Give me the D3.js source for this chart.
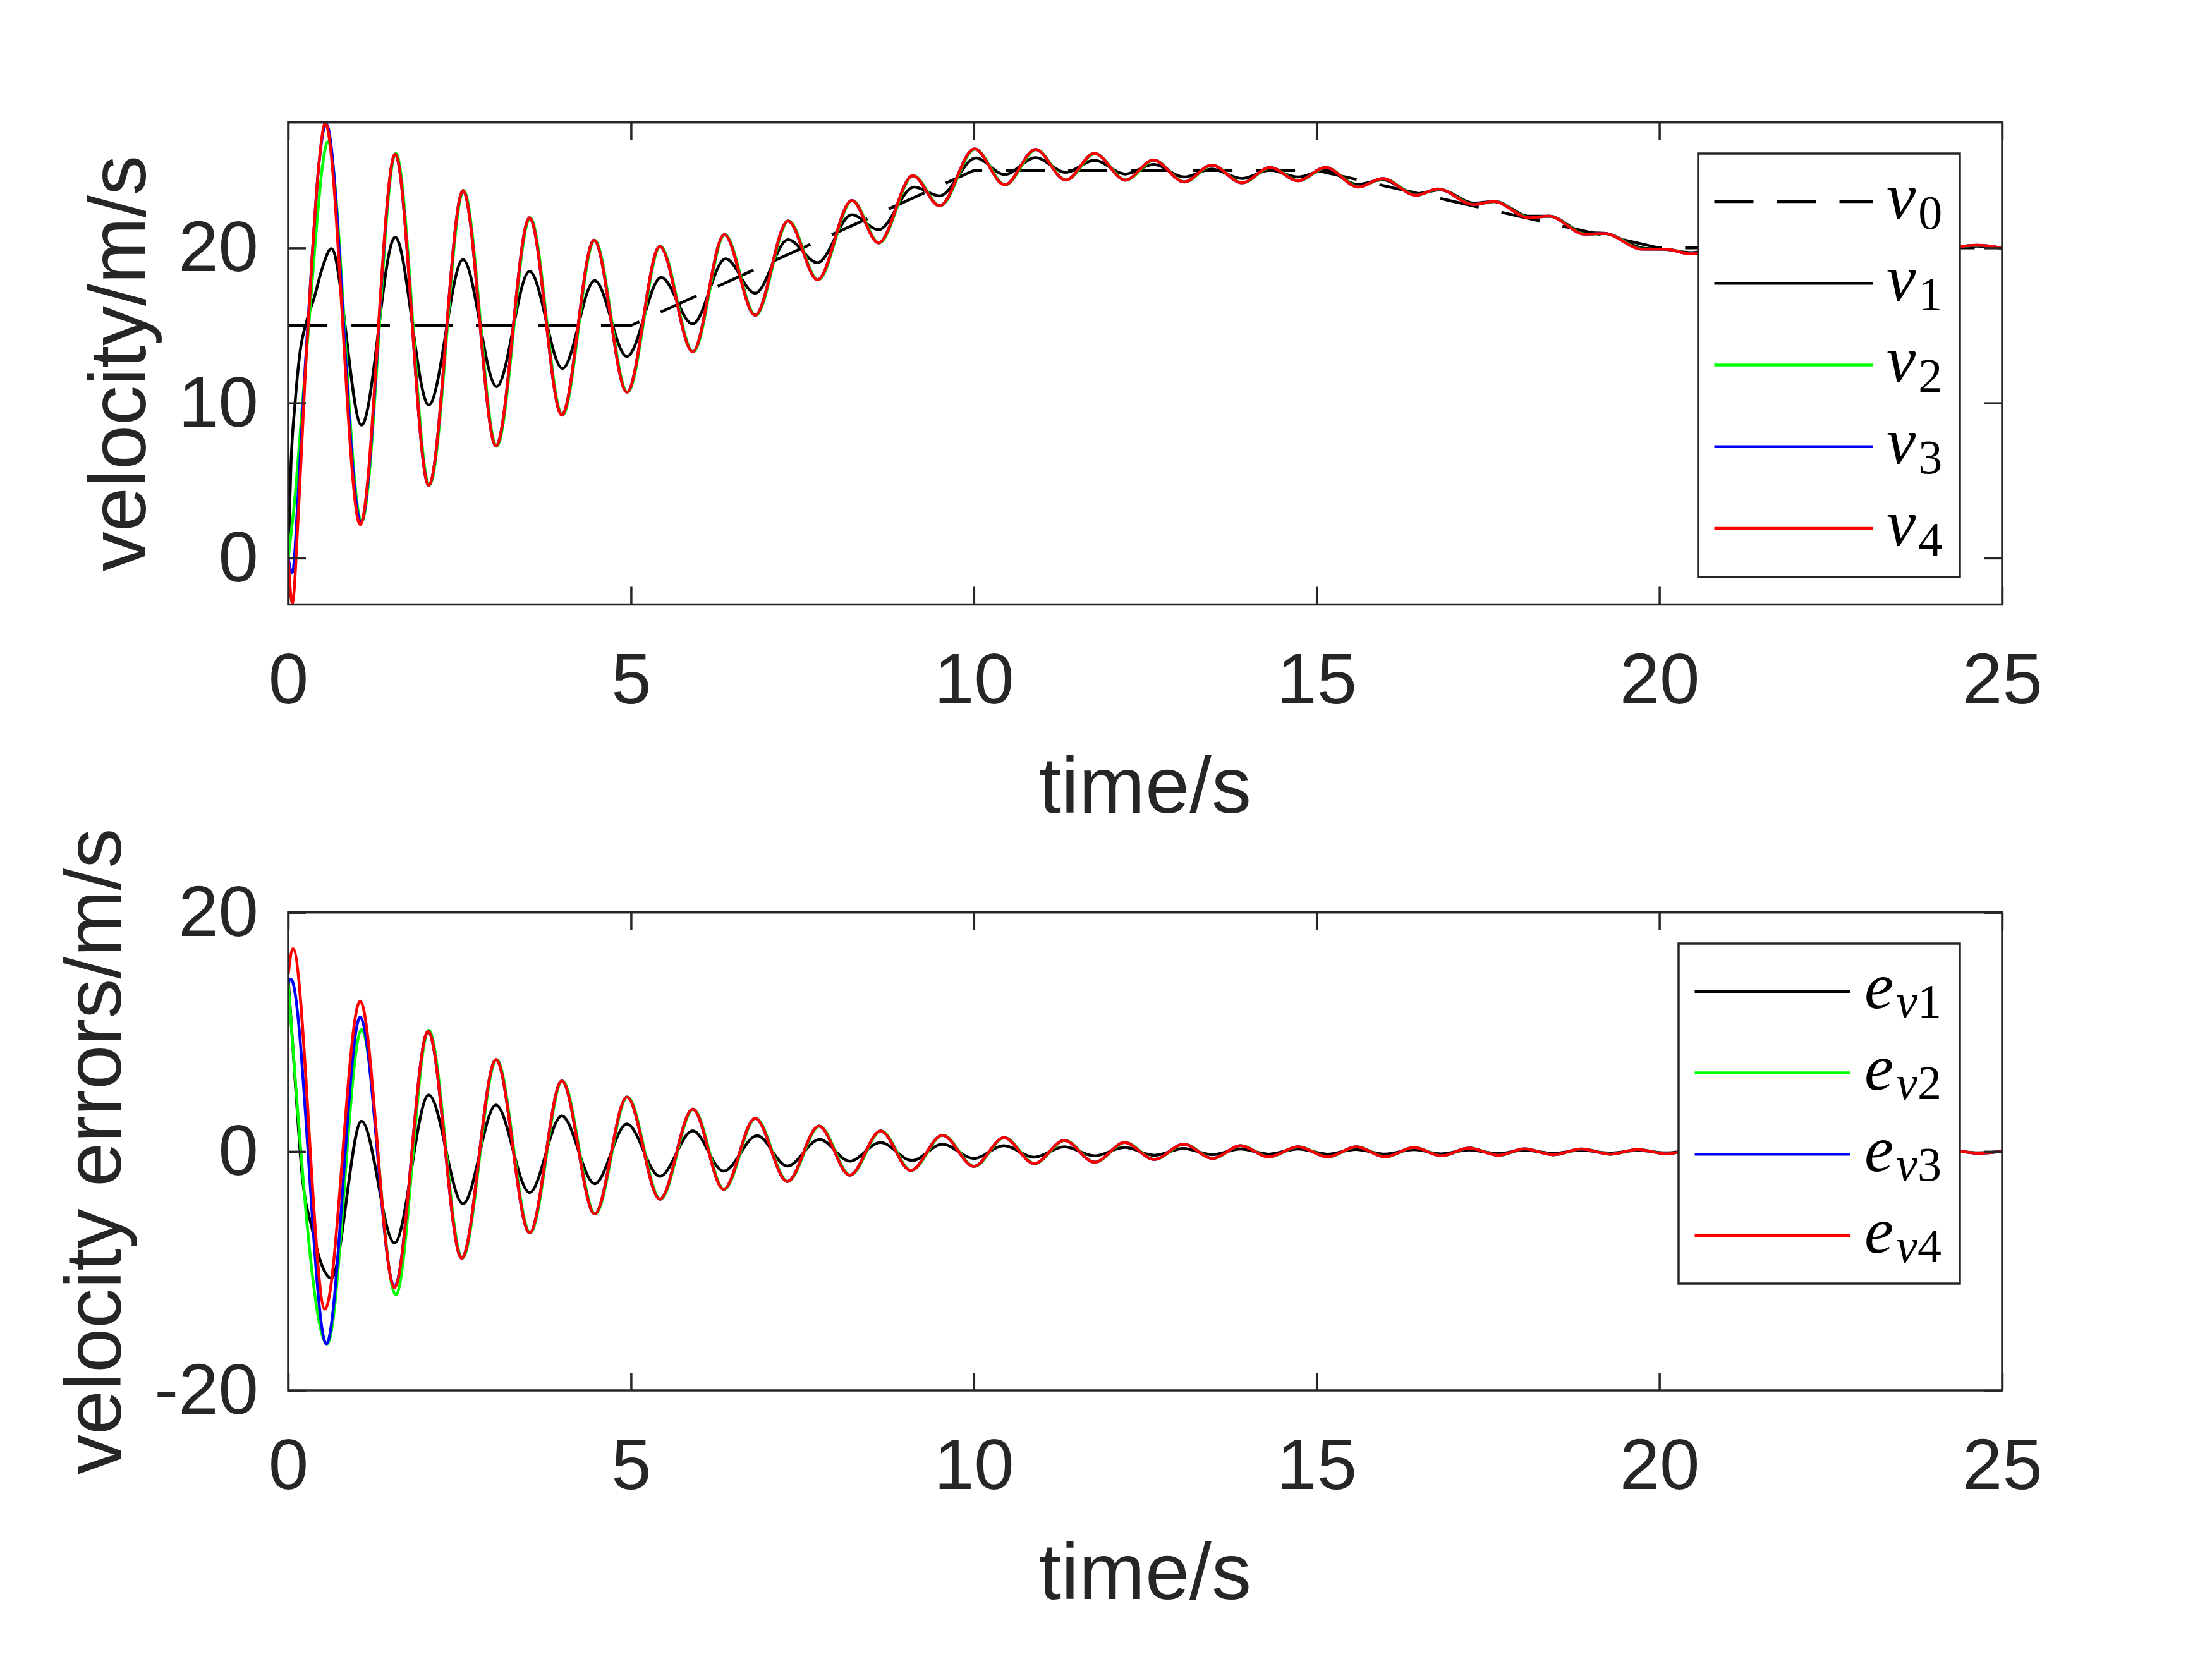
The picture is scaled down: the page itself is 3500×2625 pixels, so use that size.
<!DOCTYPE html>
<html>
<head>
<meta charset="utf-8">
<script src="https://cdn.jsdelivr.net/npm/d3@7"></script>
<style>
  body { margin: 0; background: #fff; }
  .tick text, .lbl { font-family: "Liberation Sans", Arial, sans-serif; fill: #262626; }
  .leg { font-family: "Liberation Serif", "Times New Roman", serif; fill: #000; }
</style>
</head>
<body>
<svg id="chart"></svg>
<script>
// ---- data (t in s) ----
const timeTicks = [0, 5, 10, 15, 20, 25];
const velTicks = [0, 10, 20];
const errTicks = [-20, 0, 20];

const v0 = [[0, 15], [5, 15], [10, 25], [15, 25], [20, 20], [25, 20]];

const v1 = [[0, 0], [0.04, 6], [0.1, 10], [0.17, 13.2], [0.27, 15.3], [0.38, 16.8], [0.49, 18.6], [0.63, 19.95],
  [1.07, 8.57], [1.56, 20.7], [2.05, 9.87], [2.55, 19.25], [3.04, 11.06], [3.52, 18.5], [4.0, 12.23], [4.47, 17.9],
  [4.94, 13.0], [5.44, 18.1], [5.9, 15.1], [6.38, 19.3], [6.81, 17.08], [7.29, 20.53], [7.72, 19.05], [8.22, 22.15],
  [8.61, 21.18], [9.13, 23.93], [9.5, 23.36], [10.03, 25.8], [10.45, 24.74], [10.9, 25.82], [11.34, 24.88],
  [11.76, 25.65], [12.21, 24.77], [12.62, 25.39], [13.07, 24.58], [13.47, 25.09], [13.91, 24.48], [14.32, 25.02],
  [14.73, 24.58], [15.13, 25.02], [15.6, 24.1], [15.96, 24.4], [16.45, 23.5], [16.8, 23.75], [17.3, 22.9],
  [17.6, 23.0], [18.1, 22.05], [18.4, 22.05], [18.9, 21.0], [19.2, 20.95], [19.75, 20.0], [20.1, 19.9],
  [20.46, 19.7], [21.0, 20.05], [21.6, 19.92], [22.2, 20.06], [22.8, 19.95], [23.4, 20.05], [24.0, 19.96],
  [24.63, 20.12], [25, 20.0]];

const v2 = [[0, 0], [0.1, 4], [0.2, 9.5], [0.3, 15], [0.42, 21.7], [0.5, 25.3], [0.58, 26.87],
  [1.07, 2.35], [1.57, 26.1], [2.06, 4.7], [2.56, 23.7], [3.04, 7.2], [3.53, 21.95], [4.0, 9.2], [4.47, 20.5],
  [4.95, 10.7], [5.43, 20.1], [5.91, 13.3], [6.37, 20.86], [6.82, 15.66], [7.3, 21.74], [7.73, 17.95],
  [8.23, 23.06], [8.62, 20.33], [9.12, 24.66], [9.51, 22.72], [10.02, 26.38], [10.46, 24.07], [10.91, 26.34],
  [11.35, 24.38], [11.77, 26.08], [12.22, 24.38], [12.63, 25.66], [13.08, 24.26], [13.48, 25.34], [13.92, 24.2],
  [14.33, 25.18], [14.74, 24.34], [15.14, 25.18], [15.62, 23.94], [15.97, 24.47], [16.46, 23.41], [16.78, 23.8],
  [17.3, 22.81], [17.59, 22.99], [18.11, 21.96], [18.4, 22.04], [18.92, 20.9], [19.21, 20.92], [19.76, 19.93],
  [20.1, 19.92], [20.47, 19.63], [21.0, 20.1], [21.6, 19.9], [22.2, 20.1], [22.8, 19.92], [23.4, 20.08],
  [24.0, 19.94], [24.64, 20.17], [25, 20.0]];

const v3 = [[0, 0], [0.06, -0.96], [0.15, 4.5], [0.25, 12.5], [0.35, 19.5], [0.45, 25.5], [0.555, 28.0],
  [1.06, 2.3], [1.56, 26.05], [2.05, 4.68], [2.55, 23.7], [3.03, 7.22], [3.52, 21.95], [3.99, 9.22], [4.46, 20.5],
  [4.94, 10.7], [5.42, 20.1], [5.9, 13.3], [6.36, 20.86], [6.81, 15.66], [7.29, 21.74], [7.72, 17.95],
  [8.22, 23.06], [8.61, 20.33], [9.11, 24.66], [9.5, 22.72], [10.01, 26.4], [10.45, 24.07], [10.9, 26.36],
  [11.34, 24.38], [11.76, 26.1], [12.21, 24.38], [12.62, 25.67], [13.07, 24.26], [13.47, 25.35], [13.91, 24.2],
  [14.32, 25.19], [14.73, 24.34], [15.13, 25.19], [15.61, 23.93], [15.96, 24.48], [16.45, 23.4], [16.77, 23.81],
  [17.29, 22.8], [17.58, 23.0], [18.1, 21.95], [18.39, 22.05], [18.91, 20.89], [19.2, 20.93], [19.75, 19.92],
  [20.09, 19.92], [20.46, 19.62], [21.0, 20.1], [21.6, 19.9], [22.2, 20.1], [22.8, 19.92], [23.4, 20.08],
  [24.0, 19.94], [24.63, 20.18], [25, 20.0]];

const v4 = [[0, 0], [0.06, -2.9], [0.15, 3], [0.25, 12], [0.35, 19.5], [0.45, 25.5], [0.54, 28.05],
  [1.05, 2.16], [1.56, 26.05], [2.05, 4.68], [2.55, 23.7], [3.03, 7.22], [3.52, 21.95], [3.99, 9.22], [4.46, 20.5],
  [4.94, 10.7], [5.42, 20.1], [5.9, 13.3], [6.36, 20.86], [6.81, 15.66], [7.29, 21.74], [7.72, 17.95],
  [8.22, 23.06], [8.61, 20.33], [9.11, 24.66], [9.5, 22.72], [10.01, 26.4], [10.45, 24.07], [10.9, 26.36],
  [11.34, 24.38], [11.76, 26.1], [12.21, 24.38], [12.62, 25.67], [13.07, 24.26], [13.47, 25.35], [13.91, 24.2],
  [14.32, 25.19], [14.73, 24.34], [15.13, 25.19], [15.61, 23.93], [15.96, 24.48], [16.45, 23.4], [16.77, 23.81],
  [17.29, 22.8], [17.58, 23.0], [18.1, 21.95], [18.39, 22.05], [18.91, 20.89], [19.2, 20.93], [19.75, 19.92],
  [20.09, 19.92], [20.46, 19.62], [21.0, 20.1], [21.6, 19.9], [22.2, 20.1], [22.8, 19.92], [23.4, 20.08],
  [24.0, 19.94], [24.63, 20.18], [25, 20.0]];

const ev1 = [[0, 14.5], [0.1, 6], [0.2, -1.8], [0.35, -6.5], [0.49, -9.5], [0.63, -10.6], [1.07, 2.53],
  [1.55, -7.66], [2.05, 4.72], [2.55, -4.38], [3.03, 3.88], [3.52, -3.44], [3.99, 2.97], [4.47, -2.7], [4.94, 2.29],
  [5.42, -2.09], [5.9, 1.72], [6.35, -1.65], [6.84, 1.31], [7.28, -1.23], [7.75, 1.0], [8.19, -0.81], [8.64, 0.74],
  [9.1, -0.76], [9.54, 0.6], [10.0, -0.58], [10.44, 0.48], [10.88, -0.49], [11.32, 0.39], [11.76, -0.37],
  [12.2, 0.33], [12.63, -0.32], [13.06, 0.24], [13.48, -0.27], [13.89, 0.21], [14.3, -0.23], [14.73, 0.21],
  [15.16, -0.23], [15.57, 0.17], [16.0, -0.22], [16.42, 0.15], [16.82, -0.2], [17.22, 0.13], [17.65, -0.18],
  [18.03, 0.11], [18.45, -0.16], [18.86, 0.1], [19.29, -0.14], [19.68, 0.09], [20.1, -0.12], [20.5, 0.08],
  [20.9, -0.1], [21.3, 0.07], [21.7, -0.09], [22.1, 0.06], [22.5, -0.08], [22.9, 0.05], [23.3, -0.07],
  [23.7, 0.05], [24.1, -0.06], [24.25, 0.05], [24.66, -0.12], [25, 0.0]];

const ev2 = [[0, 14.1], [0.57, -16.1], [1.07, 10.2], [1.57, -12.0], [2.05, 10.15], [2.54, -8.94], [3.04, 7.69],
  [3.53, -6.81], [4.0, 5.9], [4.48, -5.23], [4.95, 4.55], [5.43, -4.0], [5.91, 3.54], [6.36, -3.17], [6.82, 2.77],
  [7.29, -2.52], [7.75, 2.12], [8.2, -1.99], [8.65, 1.71], [9.09, -1.59], [9.55, 1.36], [10.01, -1.25],
  [10.45, 1.15], [10.89, -1.02], [11.33, 0.92], [11.77, -0.9], [12.21, 0.74], [12.64, -0.67], [13.07, 0.6],
  [13.49, -0.58], [13.9, 0.48], [14.31, -0.46], [14.74, 0.39], [15.17, -0.46], [15.59, 0.39], [16.01, -0.46],
  [16.43, 0.33], [16.83, -0.37], [17.23, 0.28], [17.66, -0.32], [18.04, 0.22], [18.46, -0.28], [18.87, 0.2],
  [19.3, -0.23], [19.69, 0.17], [20.11, -0.2], [20.51, 0.15], [20.91, -0.17], [21.31, 0.13], [21.71, -0.15],
  [22.11, 0.12], [22.51, -0.13], [22.91, 0.1], [23.31, -0.12], [23.71, 0.09], [24.11, -0.1], [24.26, 0.08],
  [24.67, -0.15], [25, 0.02]];

const ev3 = [[0, 14.1], [0.04, 14.4], [0.557, -16.1], [1.05, 11.23], [1.55, -11.3], [2.04, 10.05], [2.53, -8.94],
  [3.03, 7.69], [3.52, -6.81], [3.99, 5.9], [4.47, -5.23], [4.94, 4.55], [5.42, -4.0], [5.9, 3.54], [6.35, -3.17],
  [6.81, 2.77], [7.28, -2.52], [7.74, 2.12], [8.19, -1.99], [8.64, 1.71], [9.08, -1.59], [9.54, 1.36], [10.0, -1.25],
  [10.44, 1.15], [10.88, -1.02], [11.32, 0.92], [11.76, -0.9], [12.2, 0.74], [12.63, -0.67], [13.06, 0.6],
  [13.48, -0.58], [13.89, 0.48], [14.3, -0.46], [14.73, 0.39], [15.16, -0.46], [15.58, 0.39], [16.0, -0.46],
  [16.42, 0.33], [16.82, -0.37], [17.22, 0.28], [17.65, -0.32], [18.03, 0.22], [18.45, -0.28], [18.86, 0.2],
  [19.29, -0.23], [19.68, 0.17], [20.1, -0.2], [20.5, 0.15], [20.9, -0.17], [21.3, 0.13], [21.7, -0.15],
  [22.1, 0.12], [22.5, -0.13], [22.9, 0.1], [23.3, -0.12], [23.7, 0.09], [24.1, -0.1], [24.25, 0.08],
  [24.66, -0.15], [25, 0.02]];

const ev4 = [[0, 14.8], [0.07, 16.96], [0.536, -13.2], [1.05, 12.58], [1.55, -11.4], [2.04, 10.05], [2.53, -8.94],
  [3.03, 7.69], [3.52, -6.81], [3.99, 5.9], [4.47, -5.23], [4.94, 4.55], [5.42, -4.0], [5.9, 3.54], [6.35, -3.17],
  [6.81, 2.77], [7.28, -2.52], [7.74, 2.12], [8.19, -1.99], [8.64, 1.71], [9.08, -1.59], [9.54, 1.36], [10.0, -1.25],
  [10.44, 1.15], [10.88, -1.02], [11.32, 0.92], [11.76, -0.9], [12.2, 0.74], [12.63, -0.67], [13.06, 0.6],
  [13.48, -0.58], [13.89, 0.48], [14.3, -0.46], [14.73, 0.39], [15.16, -0.46], [15.58, 0.39], [16.0, -0.46],
  [16.42, 0.33], [16.82, -0.37], [17.22, 0.28], [17.65, -0.32], [18.03, 0.22], [18.45, -0.28], [18.86, 0.2],
  [19.29, -0.23], [19.68, 0.17], [20.1, -0.2], [20.5, 0.15], [20.9, -0.17], [21.3, 0.13], [21.7, -0.15],
  [22.1, 0.12], [22.5, -0.13], [22.9, 0.1], [23.3, -0.12], [23.7, 0.09], [24.1, -0.1], [24.25, 0.08],
  [24.66, -0.15], [25, 0.02]];

const topLegend = [["v", "0"], ["v", "1"], ["v", "2"], ["v", "3"], ["v", "4"]];
const bottomLegend = [["e", "v", "1"], ["e", "v", "2"], ["e", "v", "3"], ["e", "v", "4"]];

// ---- layout ----
const W = 3500, H = 2625;
const axColor = "#262626";
const svg = d3.select("#chart").attr("width", W).attr("height", H);
svg.append("rect").attr("width", W).attr("height", H).attr("fill", "#fff");

const left = 456, right = 3168;
const x = d3.scaleLinear().domain([0, 25]).range([left, right]);

const panels = [
  {
    id: "top", top: 193.7, bottom: 956.5, domain: [-3, 28.1], ticks: velTicks,
    ylabel: "velocity/m/s", ylabelX: 229.5,
    series: [
      { data: v0, color: "#000", dash: "62 37", straight: true },
      { data: v1, color: "#000" },
      { data: v2, color: "#00ff00" },
      { data: v3, color: "#0000ff" },
      { data: v4, color: "#ff0000" }
    ],
    legend: { x0: 2687, x1: 3101, y0: 243, y1: 913, lineX0: 2712.5, lineX1: 2963, textX: 2985, row0: 319, step: 129.25, items: topLegend }
  },
  {
    id: "bottom", top: 1443.7, bottom: 2200, domain: [-20, 20], ticks: errTicks,
    ylabel: "velocity errors/m/s", ylabelX: 191,
    series: [
      { data: ev1, color: "#000" },
      { data: ev2, color: "#00ff00" },
      { data: ev3, color: "#0000ff" },
      { data: ev4, color: "#ff0000" }
    ],
    legend: { x0: 2656, x1: 3101, y0: 1493, y1: 2031, lineX0: 2681.5, lineX1: 2928, textX: 2950, row0: 1568.7, step: 128.8, items: bottomLegend }
  }
];

const tickLen = 28;
const fmt = d => String(d);

panels.forEach(p => {
  const y = d3.scaleLinear().domain(p.domain).range([p.bottom, p.top]);
  const g = svg.append("g").attr("class", p.id);

  g.append("clipPath").attr("id", "clip-" + p.id)
    .append("rect")
    .attr("x", left).attr("y", p.top)
    .attr("width", right - left).attr("height", p.bottom - p.top);

  const smooth = d3.line().x(d => x(d[0])).y(d => y(d[1])).curve(d3.curveMonotoneX);
  const straight = d3.line().x(d => x(d[0])).y(d => y(d[1]));

  const plot = g.append("g").attr("clip-path", `url(#clip-${p.id})`);
  p.series.forEach(s => {
    plot.append("path")
      .attr("d", (s.straight ? straight : smooth)(s.data))
      .attr("fill", "none")
      .attr("stroke", s.color)
      .attr("stroke-width", 4.5)
      .attr("stroke-linejoin", "round")
      .attr("stroke-dasharray", s.dash || null);
  });

  // axes: ticks point inward on all four sides
  const styleAxis = sel => {
    sel.select(".domain").remove();
    sel.selectAll(".tick line").attr("stroke", axColor).attr("stroke-width", 3.5);
  };

  g.append("g")
    .attr("transform", `translate(0,${p.bottom})`)
    .call(d3.axisBottom(x).tickValues(timeTicks).tickFormat(fmt).tickSizeInner(-tickLen).tickSizeOuter(0).tickPadding(75.5))
    .call(styleAxis)
    .call(a => a.selectAll(".tick text").attr("font-size", 114).attr("fill", axColor));

  g.append("g")
    .attr("transform", `translate(0,${p.top})`)
    .call(d3.axisTop(x).tickValues(timeTicks).tickFormat("").tickSizeInner(-tickLen).tickSizeOuter(0))
    .call(styleAxis);

  g.append("g")
    .attr("transform", `translate(${left},0)`)
    .call(d3.axisLeft(y).tickValues(p.ticks).tickFormat(fmt).tickSizeInner(-tickLen).tickSizeOuter(0).tickPadding(47))
    .call(styleAxis)
    .call(a => a.selectAll(".tick text").attr("font-size", 114).attr("fill", axColor));

  g.append("g")
    .attr("transform", `translate(${right},0)`)
    .call(d3.axisRight(y).tickValues(p.ticks).tickFormat("").tickSizeInner(-tickLen).tickSizeOuter(0))
    .call(styleAxis);

  g.append("rect")
    .attr("x", left).attr("y", p.top)
    .attr("width", right - left).attr("height", p.bottom - p.top)
    .attr("fill", "none").attr("stroke", axColor).attr("stroke-width", 3.5);

  g.append("text").attr("class", "lbl")
    .attr("x", (left + right) / 2).attr("y", p.bottom + 329.5)
    .attr("text-anchor", "middle").attr("font-size", 126)
    .text("time/s");

  g.append("text").attr("class", "lbl")
    .attr("transform", `translate(${p.ylabelX},${(p.top + p.bottom) / 2}) rotate(-90)`)
    .attr("text-anchor", "middle").attr("font-size", 126)
    .text(p.ylabel);

  // legend
  const L = p.legend;
  const lg = g.append("g").attr("class", "legend");
  lg.append("rect")
    .attr("x", L.x0).attr("y", L.y0)
    .attr("width", L.x1 - L.x0).attr("height", L.y1 - L.y0)
    .attr("fill", "#fff").attr("stroke", axColor).attr("stroke-width", 3.5);

  L.items.forEach((item, i) => {
    const s = p.series[i];
    const yy = L.row0 + i * L.step;
    lg.append("line")
      .attr("x1", L.lineX0).attr("x2", L.lineX1)
      .attr("y1", yy).attr("y2", yy)
      .attr("stroke", s.color).attr("stroke-width", 4.5)
      .attr("stroke-dasharray", s.dash || null);

    const t = lg.append("text").attr("class", "leg")
      .attr("x", L.textX).attr("y", yy + 26.5);
    t.append("tspan").attr("font-style", "italic").attr("font-size", 104).text(item[0]);
    if (item.length === 2) {
      t.append("tspan").attr("font-size", 76).attr("dy", 16).attr("dx", 4).text(item[1]);
    } else {
      t.append("tspan").attr("font-style", "italic").attr("font-size", 76).attr("dy", 15).attr("dx", 4).text(item[1]);
      t.append("tspan").attr("font-size", 76).text(item[2]);
    }
  });
});
</script>
</body>
</html>
